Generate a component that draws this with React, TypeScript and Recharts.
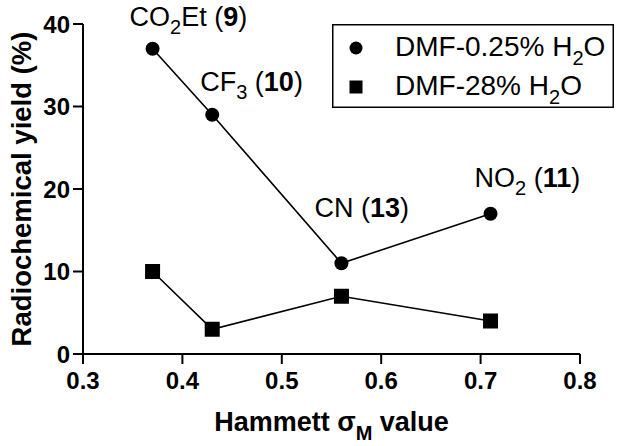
import React from 'react';
import { LineChart, Line, XAxis, YAxis, Legend, LabelList } from 'recharts';

// ---- data ----
const sigmaM = [0.37, 0.43, 0.56, 0.71];
const yieldLowWater = [37, 29, 11, 17];
const yieldHighWater = [10, 3, 7, 4];
const xTicks = [0.3, 0.4, 0.5, 0.6, 0.7, 0.8];
const yTicks = [0, 10, 20, 30, 40];
const seriesNames = ['DMF-0.25% H2O', 'DMF-28% H2O'];
const annPrefix = ['CO', 'CF', 'CN', 'NO'];
const annSub = ['2', '3', '', '2'];
const annSuffix = ['Et', '', '', ''];
const annNumber = ['9', '10', '13', '11'];

const lowData = sigmaM.map((x, i) => ({ x, y: yieldLowWater[i], idx: i }));
const highData = sigmaM.map((x, i) => ({ x, y: yieldHighWater[i], idx: i }));

const FONT = '"Liberation Sans", Arial, Helvetica, sans-serif';
// label offsets (px) relative to each circle point
const annOffset = [
  [-23, -23],
  [-12, -24],
  [-27, -46],
  [-16, -27],
];

const AnnLabel = (props: any) => {
  const { x, y, index } = props;
  if (x == null || y == null) return null;
  const [dx, dy] = annOffset[index];
  const sub = annSub[index];
  return (
    <text x={x + dx} y={y + dy} fontFamily={FONT} fontSize={27} fill="#000">
      <tspan>{annPrefix[index]}</tspan>
      {sub ? (
        <tspan dy={8} fontSize={20}>
          {sub}
        </tspan>
      ) : null}
      <tspan dy={sub ? -8 : 0}>{annSuffix[index] + ' ('}</tspan>
      <tspan fontWeight={700}>{annNumber[index]}</tspan>
      <tspan>)</tspan>
    </text>
  );
};

const SquareDot = (p: any) => {
  if (p.cx == null || p.cy == null) return null;
  return <rect key={`sq-${p.index}`} x={p.cx - 7.5} y={p.cy - 7.5} width={15} height={15} fill="#000" />;
};

const LegendBox = (props: any) => {
  const payload = props.payload || [];
  return (
    <svg width={282} height={84} style={{ display: 'block' }}>
      <rect x={0.75} y={0.75} width={280.5} height={82.5} fill="#fff" stroke="#000" strokeWidth={1.5} />
      {payload.map((item: any, i: number) => {
        const cy = 24 + i * 39;
        const name: string = item.value || '';
        const base = name.replace(' H2O', ' H');
        return (
          <g key={i}>
            {item.type === 'square' ? (
              <rect x={24 - 6.5} y={cy - 6.5} width={13} height={13} fill="#000" />
            ) : (
              <circle cx={24} cy={cy} r={6.5} fill="#000" />
            )}
            <text x={63} y={cy + 8} fontFamily={FONT} fontSize={28} fill="#000">
              <tspan>{base}</tspan>
              <tspan dy={9} fontSize={20}>2</tspan>
              <tspan dy={-9}>O</tspan>
            </text>
          </g>
        );
      })}
    </svg>
  );
};

const XTitle = (props: any) => {
  const vb = props.viewBox || {};
  const cx = vb.x + vb.width / 2;
  return (
    <text x={cx} y={431} textAnchor="middle" fontFamily={FONT} fontSize={27} fontWeight={700} fill="#000">
      <tspan>Hammett σ</tspan>
      <tspan dy={9} fontSize={20}>M</tspan>
      <tspan dy={-9}> value</tspan>
    </text>
  );
};

const YTitle = (props: any) => {
  const vb = props.viewBox || {};
  const cy = vb.y + vb.height / 2;
  const x = 31;
  return (
    <text
      x={x}
      y={cy}
      transform={`rotate(-90 ${x} ${cy})`}
      textAnchor="middle"
      fontFamily={FONT}
      fontSize={27.5}
      fontWeight={700}
      fill="#000"
    >
      Radiochemical yield (%)
    </text>
  );
};

export default function App() {
  const tickStyle = { fontSize: 24, fontWeight: 700, fill: '#000', fontFamily: FONT };
  const lineStyle = { stroke: '#000', strokeWidth: 2 };
  return (
    <div style={{ position: 'absolute', left: 0, top: 0, background: '#fff' }}>
      <LineChart width={622} height={446} margin={{ top: 24, right: 42, bottom: 0, left: 0 }}>
        <XAxis
          dataKey="x"
          type="number"
          domain={[0.3, 0.8]}
          ticks={xTicks}
          interval={0}
          tickFormatter={(v: number) => v.toFixed(1)}
          height={92}
          tickSize={10}
          tickMargin={8}
          tick={tickStyle}
          axisLine={lineStyle}
          tickLine={lineStyle}
          label={<XTitle />}
        />
        <YAxis
          type="number"
          domain={[0, 40]}
          ticks={yTicks}
          interval={0}
          width={83}
          tickSize={10}
          tickMargin={3}
          tick={tickStyle}
          axisLine={lineStyle}
          tickLine={lineStyle}
          label={<YTitle />}
        />
        <Legend
          layout="vertical"
          align="center"
          verticalAlign="middle"
          wrapperStyle={{ left: 332, top: 24, width: 282, height: 84 }}
          content={<LegendBox />}
        />
        <Line
          data={lowData}
          dataKey="y"
          name={seriesNames[0]}
          legendType="circle"
          stroke="#000"
          strokeWidth={1.6}
          dot={{ r: 7, fill: '#000', stroke: '#000', strokeWidth: 0 }}
          activeDot={false}
          isAnimationActive={false}
        >
          <LabelList dataKey="y" content={<AnnLabel />} />
        </Line>
        <Line
          data={highData}
          dataKey="y"
          name={seriesNames[1]}
          legendType="square"
          stroke="#000"
          strokeWidth={1.6}
          dot={<SquareDot />}
          activeDot={false}
          isAnimationActive={false}
        />
      </LineChart>
    </div>
  );
}
